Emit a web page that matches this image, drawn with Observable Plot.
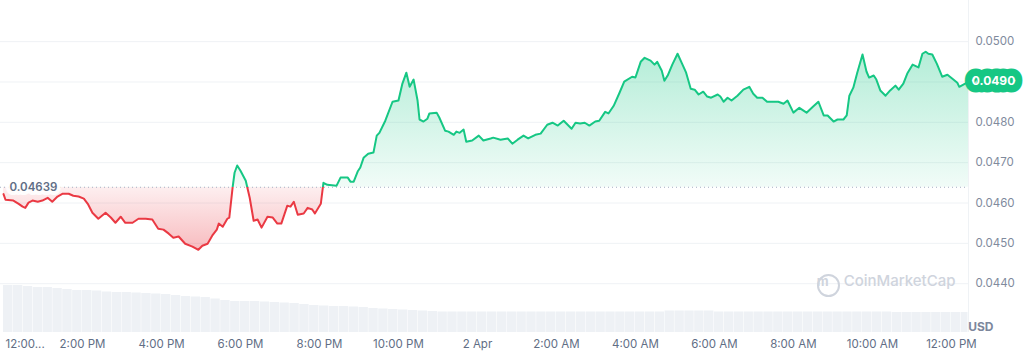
<!DOCTYPE html>
<html><head><meta charset="utf-8">
<script src="https://cdn.jsdelivr.net/npm/d3@7"></script>
<script src="https://cdn.jsdelivr.net/npm/@observablehq/plot@0.6"></script>
<style>
html,body{margin:0;padding:0;background:#fff;}
#chart{position:relative;width:1024px;height:358px;font-family:Inter,sans-serif;}
#chart svg{position:absolute;left:0;top:0;}
</style></head><body><div id="chart"></div>
<script>
// ---- data ----
const startTime = "2024-04-01T12:00:00";
const xDomainMinutes = [-4.6, 1466];
const minutes = [0,3,15,23,29,33,38,44,52,59,67,74,82,90,99,106,114,122,128,135,144,155,163,170,178,185,196,205,216,226,235,243,251,258,266,276,287,296,302,310,317,324,327,333,340,343,348,351,355,360,368,374,380,386,392,401,409,416,422,431,436,441,447,456,462,469,473,482,486,492,506,512,523,527,532,538,542,547,554,562,567,571,580,591,600,606,612,617,623,629,632,638,644,647,658,662,671,676,684,688,693,699,703,712,722,729,740,744,755,766,773,781,790,797,808,816,826,834,842,851,863,869,876,883,890,899,905,914,919,927,936,943,955,960,968,974,983,989,993,1000,1004,1009,1016,1024,1031,1037,1044,1050,1056,1063,1069,1075,1085,1089,1094,1100,1106,1115,1124,1133,1139,1145,1153,1160,1170,1177,1185,1191,1200,1209,1220,1230,1238,1246,1252,1261,1267,1276,1281,1285,1291,1297,1305,1311,1315,1322,1326,1332,1340,1347,1355,1360,1367,1373,1381,1390,1396,1401,1405,1411,1418,1426,1434,1443,1449,1452,1461,1466];
const prices = [0.04622,0.04608,0.04606,0.04598,0.04591,0.04588,0.04601,0.04606,0.04603,0.04606,0.04613,0.04603,0.04616,0.04623,0.04623,0.04618,0.04616,0.04611,0.04598,0.04576,0.04561,0.04576,0.04564,0.04551,0.04566,0.04551,0.04551,0.04561,0.04561,0.04559,0.04536,0.04534,0.04524,0.04514,0.04517,0.04499,0.04492,0.04484,0.04494,0.04499,0.04519,0.04534,0.04549,0.04541,0.04561,0.04564,0.04638,0.04675,0.04693,0.04680,0.04655,0.04613,0.04556,0.04559,0.04539,0.04566,0.04564,0.04549,0.04549,0.04593,0.04591,0.04603,0.04571,0.04574,0.04588,0.04584,0.04574,0.04598,0.04650,0.04645,0.04643,0.04663,0.04663,0.04653,0.04653,0.04678,0.04688,0.04712,0.04722,0.04725,0.04767,0.04774,0.04804,0.04851,0.04854,0.04896,0.04923,0.04888,0.04906,0.04854,0.04807,0.04802,0.04809,0.04822,0.04824,0.04812,0.04779,0.04777,0.04769,0.04777,0.04774,0.04782,0.04752,0.04755,0.04767,0.04755,0.04760,0.04762,0.04757,0.04760,0.04747,0.04757,0.04767,0.04760,0.04769,0.04772,0.04794,0.04799,0.04792,0.04804,0.04784,0.04799,0.04797,0.04799,0.04792,0.04802,0.04804,0.04826,0.04822,0.04841,0.04874,0.04901,0.04913,0.04911,0.04950,0.04960,0.04953,0.04943,0.04950,0.04928,0.04903,0.04916,0.04943,0.04970,0.04945,0.04923,0.04883,0.04881,0.04869,0.04876,0.04864,0.04861,0.04869,0.04864,0.04851,0.04861,0.04854,0.04866,0.04881,0.04888,0.04871,0.04861,0.04861,0.04851,0.04851,0.04851,0.04846,0.04854,0.04824,0.04836,0.04824,0.04839,0.04851,0.04817,0.04817,0.04802,0.04807,0.04807,0.04817,0.04866,0.04886,0.04923,0.04968,0.04926,0.04911,0.04916,0.04906,0.04879,0.04866,0.04879,0.04891,0.04881,0.04896,0.04921,0.04943,0.04936,0.04970,0.04975,0.04970,0.04968,0.04945,0.04913,0.04918,0.04906,0.04898,0.04888,0.04896,0.04901];
const baseline = 0.04639;
const volumeBinMinutes = 15;
const volumes = [4.7,4.7,4.6,4.5,4.5,4.4,4.3,4.2,4.2,4.15,4.05,4.0,4.0,3.95,3.9,3.85,3.8,3.7,3.6,3.55,3.5,3.35,3.2,3.1,3.1,3.1,3.05,3.0,2.95,2.9,2.8,2.7,2.65,2.6,2.6,2.55,2.5,2.4,2.35,2.3,2.25,2.2,2.15,2.1,2.05,2.05,2.05,2.05,2.05,2.05,2.05,2.05,2.05,2.05,2.05,2.05,2.05,2.05,2.05,2.05,2.05,2.05,2.05,2.05,2.05,2.05,2.05,2.15,2.15,2.15,2.15,2.15,2.05,2.05,2.05,2.05,2.05,2.05,2.05,2.05,2.05,2.05,2.05,2.05,2.05,2.05,2.05,2.05,2.05,2.05,2.0,2.0,2.0,2.0,2.0,2.0,2.0,2.0];
const volumeDomain = [0, 33.2];
const yTicks = [0.0440,0.0450,0.0460,0.0470,0.0480,0.0490,0.0500];
const yDomain = [0.04279, 0.05102];
const xTickMinutes = [0,120,240,360,480,600,720,840,960,1080,1200,1320,1440];
const xTickLabels = ["12:00...","2:00 PM","4:00 PM","6:00 PM","8:00 PM","10:00 PM","2 Apr","2:00 AM","4:00 AM","6:00 AM","8:00 AM","10:00 AM","12:00 PM"];
const currency = "USD";
const watermark = "CoinMarketCap";

// ---- build ----
const t0 = new Date(startTime);
const at = m => new Date(+t0 + m * 60000);
const data = minutes.map((m, i) => ({date: at(m), price: prices[i]}));
const last = data[data.length - 1];
const xDomain = xDomainMinutes.map(at);
const volData = volumes.map((v, i) => ({
  x1: at(i * volumeBinMinutes),
  x2: at(Math.min((i + 1) * volumeBinMinutes, xDomainMinutes[1])),
  v
}));
const xTicks = xTickMinutes.map((m, i) => ({date: at(m), label: xTickLabels[i]}));
// the current-price badge covers the tick label at the same level
const yLabelTicks = yTicks.filter(t => d3.format(".4f")(t) !== d3.format(".4f")(last.price));

const W = 1024, H = 358;
const common = {width: W, height: H, marginTop: 0, marginRight: 56, marginBottom: 26, marginLeft: 0};
const GREEN = "#16c784", RED = "#ea3943";

const vol = Plot.plot({
  ...common,
  style: {background: "transparent"},
  x: {type: "time", domain: xDomain, axis: null},
  y: {domain: volumeDomain, axis: null},
  marks: [
    Plot.rectY(volData, {x1: "x1", x2: "x2", y: "v", fill: "#eef1f5", insetRight: 0.5})
  ]
});

const price = Plot.plot({
  ...common,
  style: {background: "transparent", fontFamily: "Inter, sans-serif", fontSize: "11.5px", overflow: "visible"},
  x: {type: "time", domain: xDomain, axis: null},
  y: {domain: yDomain, axis: null},
  marks: [
    Plot.ruleY(yTicks, {stroke: "#eff2f5", strokeWidth: 1}),
    Plot.ruleX([xDomain[1]], {stroke: "#eff2f5", strokeWidth: 1}),
    Plot.areaY(data, {x: "date", y1: baseline, y2: "price", fill: "url(#areaGrad)"}),
    Plot.ruleY([baseline], {stroke: "#a6b0c3", strokeDasharray: "1,3"}),
    Plot.lineY(data, {x: "date", y: "price", stroke: "url(#lineGrad)", strokeWidth: 2}),
    Plot.text([baseline], {y: d => d, frameAnchor: "left", dx: 9, textAnchor: "start",
      text: d => d3.format(".5f")(d), fill: "#616e85", fontWeight: 600, fontSize: 11.5,
      stroke: "white", strokeWidth: 8, strokeOpacity: 0.9}),
    Plot.text(yLabelTicks, {y: d => d, frameAnchor: "right", dx: 7, textAnchor: "start",
      text: d => d3.format(".4f")(d), fill: "#808a9d"}),
    Plot.text([last], {x: "date", y: "price", dx: 25,
      text: d => d3.format(".4f")(d.price), fill: "white", stroke: GREEN, strokeWidth: 15,
      strokeLinejoin: "round", fontWeight: 700, fontSize: 12}),
    Plot.text(xTicks.slice(0, 1), {x: "date", text: "label", frameAnchor: "bottom", dy: 15, dx: 2,
      textAnchor: "start", fill: "#616e85"}),
    Plot.text(xTicks.slice(1), {x: "date", text: "label", frameAnchor: "bottom", dy: 15,
      fill: "#616e85"}),
    Plot.text([currency], {frameAnchor: "bottom-right", dx: 25, dy: -2, text: d => d,
      fontWeight: 700, fontSize: 12, fill: "#7d879c"}),
    Plot.dot([watermark], {frameAnchor: "bottom-right", dx: -140, dy: -47, r: 10.5,
      stroke: "#cfd4dd", strokeWidth: 2, fill: "none"}),
    Plot.text([watermark], {frameAnchor: "bottom-right", dx: -140, dy: -47, text: () => "m",
      fontWeight: 700, fontSize: 13, fill: "#cfd4dd"}),
    Plot.text([watermark], {frameAnchor: "bottom-right", dx: -13, dy: -47, textAnchor: "end",
      text: d => d, fontSize: 15, fontWeight: 500, fill: "#cfd4dd"})
  ]
});

// gradients (green above opening price, red below)
const b = price.scale("y").apply(baseline);
const off = b / H;
const defs = d3.select(price).insert("defs", ":first-child");
const lg = defs.append("linearGradient").attr("id", "lineGrad")
  .attr("gradientUnits", "userSpaceOnUse").attr("x1", 0).attr("y1", 0).attr("x2", 0).attr("y2", H);
[[0, GREEN], [off, GREEN], [off, RED], [1, RED]].forEach(([o, c]) =>
  lg.append("stop").attr("offset", o).attr("stop-color", c));
const ag = defs.append("linearGradient").attr("id", "areaGrad")
  .attr("gradientUnits", "userSpaceOnUse").attr("x1", 0).attr("y1", 0).attr("x2", 0).attr("y2", H);
[[0, GREEN, 0.42], [off, GREEN, 0.06], [off, RED, 0.08], [250 / H, RED, 0.34], [1, RED, 0.4]].forEach(([o, c, a]) =>
  ag.append("stop").attr("offset", o).attr("stop-color", c).attr("stop-opacity", a));

const chart = document.getElementById("chart");
chart.appendChild(vol);
chart.appendChild(price);
</script>
</body></html>
